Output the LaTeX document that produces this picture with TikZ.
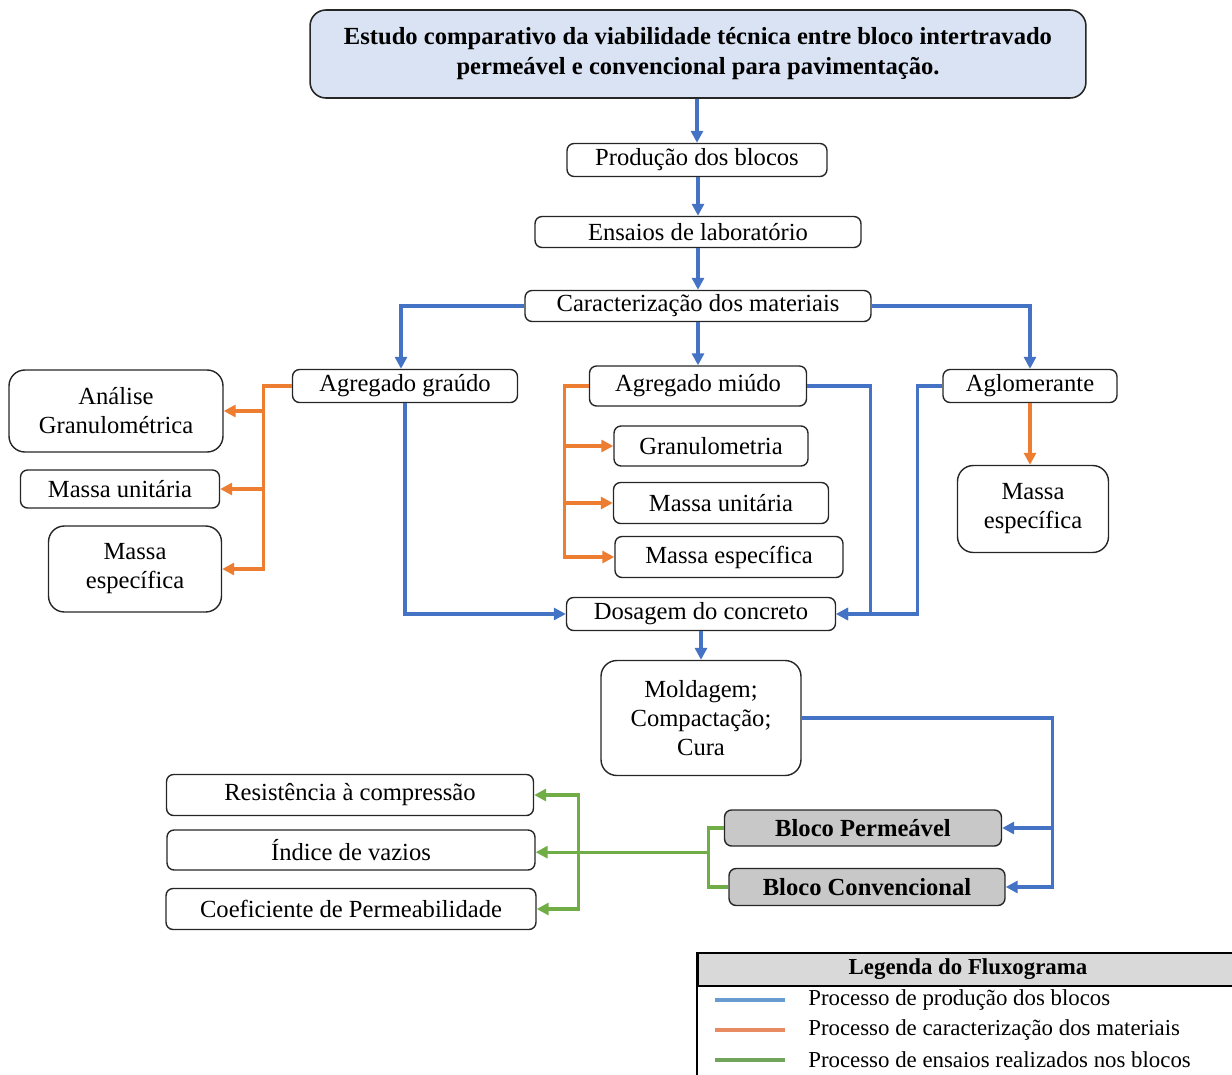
\documentclass[tikz,border=0pt]{standalone}
\usepackage{fontspec}
\setmainfont{Liberation Serif}
\usetikzlibrary{arrows.meta, positioning, calc}
\definecolor{flowblue}{RGB}{68,114,196}
\definecolor{floworange}{RGB}{237,125,49}
\definecolor{flowgreen}{RGB}{112,173,71}
\definecolor{titlefill}{RGB}{218,227,243}
\definecolor{blockgrey}{RGB}{200,200,200}
\definecolor{headgrey}{RGB}{217,217,217}
\definecolor{legblue}{RGB}{104,156,206}
\definecolor{legorange}{RGB}{232,138,98}
\definecolor{leggreen}{RGB}{112,165,90}

\begin{document}
\begin{tikzpicture}[
  x=0.02cm, y=-0.02cm,
  font=\fontsize{14}{16.5}\selectfont,
  proc/.style={rectangle, rounded corners=4pt, draw=black!85,
              line width=0.8pt, align=center, inner sep=1pt},
  bigproc/.style={proc, rounded corners=9pt},
  titulo/.style={rectangle, rounded corners=9pt, draw=black!85,
              fill=titlefill, line width=0.9pt, align=center,
              font=\fontsize{14}{17}\selectfont\bfseries},
  bloco/.style={proc, fill=blockgrey, font=\fontsize{14}{16.5}\selectfont\bfseries},
  barr/.style={-{Triangle[length=2.4mm,width=2.4mm]}, line width=1.8pt, flowblue},
  oarr/.style={-{Triangle[length=2.4mm,width=2.4mm]}, line width=1.8pt, floworange},
  garr/.style={-{Triangle[length=2.4mm,width=2.4mm]}, line width=1.8pt, flowgreen},
  gline/.style={line width=1.8pt, flowgreen},
  legtxt/.style={anchor=west, inner sep=0pt, font=\fontsize{13}{15}\selectfont}
]
\useasboundingbox (0,0) rectangle (1232,1075);

% ── Title and main production chain ──
\node[titulo, minimum width=15.52cm, minimum height=1.76cm] (titulo) at (698,54)
  {Estudo comparativo da viabilidade técnica entre bloco intertravado\\
   permeável e convencional para pavimentação.};
\node[proc, minimum width=5.2cm, minimum height=0.66cm]  (prod)  at (697,160) {Produção dos blocos};
\node[proc, minimum width=6.52cm, minimum height=0.62cm] (ens)   at (698,232) {Ensaios de laboratório};
\node[proc, minimum width=6.92cm, minimum height=0.62cm] (carac) at (698,306) {Caracterização dos materiais};

% ── Materials ──
\node[proc, minimum width=4.5cm, minimum height=0.66cm]  (grau)  at (405,386) {Agregado graúdo};
\node[proc, minimum width=4.34cm, minimum height=0.8cm]  (miudo) at (698,386) {Agregado miúdo};
\node[proc, minimum width=3.48cm, minimum height=0.66cm] (aglo)  at (1030,386) {Aglomerante};

% ── Characterisation tests ──
\node[bigproc, minimum width=4.28cm, minimum height=1.64cm] (anal) at (116,411) {Análise\\Granulométrica};
\node[proc, minimum width=3.98cm, minimum height=0.76cm]    (mua)  at (120,489) {Massa unitária};
\node[bigproc, minimum width=3.46cm, minimum height=1.72cm] (mea)  at (135,569) {Massa\\específica};
\node[proc, minimum width=3.88cm, minimum height=0.8cm]     (gran) at (711,446) {Granulometria};
\node[proc, minimum width=4.3cm, minimum height=0.82cm]     (mub)  at (721,503) {Massa unitária};
\node[proc, minimum width=4.56cm, minimum height=0.82cm]    (meb)  at (729,557) {Massa específica};
\node[bigproc, minimum width=3.02cm, minimum height=1.74cm] (mec)  at (1033,509) {Massa\\específica};

% ── Concrete and blocks ──
\node[proc, minimum width=5.38cm, minimum height=0.66cm]  (dos)  at (701,614) {Dosagem do concreto};
\node[bigproc, minimum width=4.0cm, minimum height=2.3cm] (mold) at (701,718) {Moldagem;\\Compactação;\\Cura};
\node[bloco, minimum width=5.54cm, minimum height=0.72cm] (bp)   at (863,828) {Bloco Permeável};
\node[bloco, minimum width=5.52cm, minimum height=0.74cm] (bc)   at (867,887) {Bloco Convencional};

% ── Block tests ──
\node[proc, minimum width=7.34cm, minimum height=0.82cm] (res)  at (350,795) {Resistência à compressão};
\node[proc, minimum width=7.36cm, minimum height=0.8cm]  (ind)  at (351,850) {Índice de vazios};
\node[proc, minimum width=7.4cm, minimum height=0.82cm]  (coef) at (351,909) {Coeficiente de Permeabilidade};

% ── Blue: production flow ──
\draw[barr] (prod.north |- titulo.south) -- (prod.north);
\draw[barr] (ens.north |- prod.south) -- (ens.north);
\draw[barr] (ens) -- (carac);
\draw[barr] (carac.west) -| ($(grau.north)+(-4,0)$);
\draw[barr] (carac) -- (miudo);
\draw[barr] (carac.east) -| (aglo.north);
\draw[barr] (grau.south) |- (dos.west);
\draw[barr] (miudo.east) -- ++(63,0) |- (dos.east);
\draw[barr] (aglo.west) -- ++(-25,0) |- (dos.east);
\draw[barr] (dos.south) -- (mold.north);
\draw[barr] (mold.east) -- ++(251,0) |- (bp.east);
\draw[barr] (mold.east) -- ++(251,0) |- (bc.east);

% ── Orange: characterisation ──
\draw[oarr] (grau.west) -- ++(-28,0) |- (anal.east);
\draw[oarr] (grau.west) -- ++(-28,0) |- (mua.east);
\draw[oarr] (grau.west) -- ++(-28,0) |- (mea.east);
\draw[oarr] (miudo.west) -- ++(-24,0) |- (gran.west);
\draw[oarr] (miudo.west) -- ++(-24,0) |- (mub.west);
\draw[oarr] (miudo.west) -- ++(-24,0) |- (meb.west);
\draw[oarr] (aglo.south) -- (aglo.south |- mec.north);

% ── Green: block tests ──
\draw[gline] (bp.west) -- ++(-15,0) coordinate (gtop) |- (bc.west);
\coordinate (gmid) at ($(gtop)!0.41!(gtop |- bc.west)$);
\draw[garr] (gmid) -- (ind.east |- gmid);
\coordinate (gv) at ($(ind.east)+(43,2)$);
\draw[garr] (gv) |- (res.east);
\draw[garr] (gv) |- (coef.east);

% ── Legend ──
\node[rectangle, draw=black, fill=headgrey, line width=1.2pt, anchor=north west,
      minimum width=10.9cm, minimum height=0.66cm,
      font=\fontsize{13}{15}\selectfont\bfseries] (leghead) at (697,952)
  {\hspace*{-0.1cm}Legenda do Fluxograma};
\draw[line width=1.6pt] (leghead.north west) -- (697,1080);
\draw[legblue, line width=1.8pt]   (715,1000) -- (785,1000);
\draw[legorange, line width=1.8pt] (715,1030) -- (785,1030);
\draw[leggreen, line width=1.8pt]  (715,1060) -- (785,1060);
\node[legtxt] (lega) at (808,1000) {Processo de produção dos blocos};
\node[legtxt] (legb) at (808,1030) {Processo de caracterização dos materiais};
\node[legtxt] (legc) at (808,1060) {Processo de ensaios realizados nos blocos};

\end{tikzpicture}
\end{document}
